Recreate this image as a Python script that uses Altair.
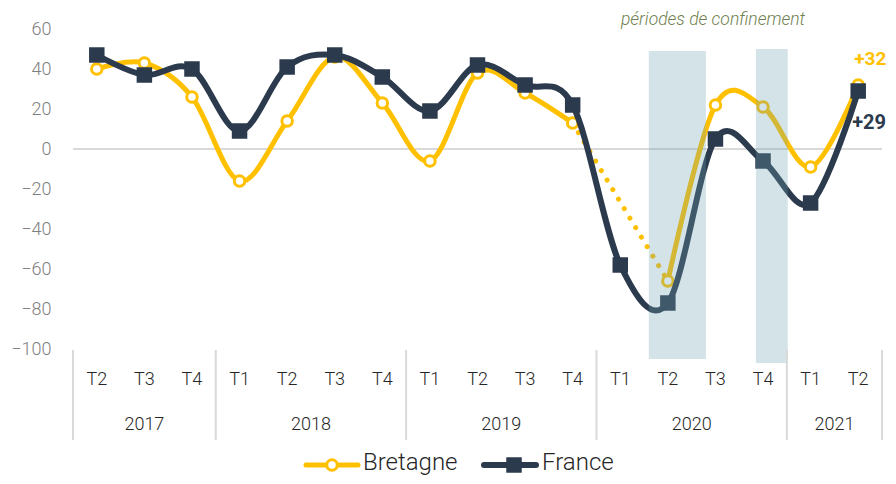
import altair as alt
import pandas as pd

# ---------------- data ----------------
quarters = ["T2", "T3", "T4", "T1", "T2", "T3", "T4", "T1", "T2", "T3", "T4",
            "T1", "T2", "T3", "T4", "T1", "T2"]
years = ["2017"] * 3 + ["2018"] * 4 + ["2019"] * 4 + ["2020"] * 4 + ["2021"] * 2
bretagne = [40, 43, 26, -16, 14, 46, 23, -6, 38, 28, 13, None, -66, 22, 21, -9, 32]
france = [47, 37, 40, 9, 41, 47, 36, 19, 42, 32, 22, -58, -77, 5, -6, -27, 29]
series = ["Bretagne", "France"]

# lockdown periods (in quarter-index units) and their vertical extent
lock_start = [11.6, 13.85]
lock_end = [12.8, 14.52]
lock_top = [49, 50]
lock_bottom = [-105, -107]

y_ticks = [-100, -80, -60, -40, -20, 0, 20, 40, 60]

YELLOW = "#FFC000"
NAVY = "#2C3A4E"
FONT = "Roboto"

idx = list(range(len(quarters)))
df = pd.DataFrame({"i": idx, "q": quarters, "year": years,
                   "bretagne": bretagne, "france": france})

# missing Bretagne T1 2020: dotted bridge between neighbours
gap = [i for i, v in enumerate(bretagne) if v is None][0]
bridge = pd.DataFrame({"i": [gap - 1, gap + 1],
                       "v": [bretagne[gap - 1], bretagne[gap + 1]]})

yrs = []
for y in dict.fromkeys(years):
    ii = [i for i, yy in enumerate(years) if yy == y]
    yrs.append({"year": y, "mid": (ii[0] + ii[-1]) / 2,
                "lo": ii[0] - 0.5, "hi": ii[-1] + 0.5})
yr_df = pd.DataFrame(yrs)
sep_df = pd.DataFrame({"s": sorted(set(yr_df["lo"]).union(yr_df["hi"]))})

lock_df = pd.DataFrame({"x1": lock_start, "x2": lock_end,
                        "y1": lock_top, "y2": lock_bottom})

last = len(quarters) - 1
end_df = pd.DataFrame({"i": [last], "b": [bretagne[last]], "f": [france[last]],
                       "bl": [f"+{bretagne[last]}"], "fl": [f"+{france[last]}"]})

xs = alt.Scale(domain=[-0.5, len(quarters) - 0.5], nice=False, zero=False)
ys = alt.Scale(domain=[-100, 60], nice=False, zero=False)
yaxis = alt.Axis(values=y_ticks, domain=False, ticks=False, grid=False,
                 labelFontSize=18, labelColor="#7f7f7f", labelFont=FONT,
                 labelFontWeight=300, labelPadding=22, title=None)

base = alt.Chart(df)

zero = alt.Chart(pd.DataFrame({"a": [-0.5], "b": [len(quarters) - 0.5], "z": [0]})).mark_rule(
    color="#d9d9d9", strokeWidth=2).encode(
    x=alt.X("a:Q", scale=xs, axis=None), x2="b:Q",
    y=alt.Y("z:Q", scale=ys, axis=yaxis))

dotted = alt.Chart(bridge).mark_line(
    color=YELLOW, strokeWidth=5, strokeDash=[0.1, 11], strokeCap="round").encode(
    x=alt.X("i:Q", scale=xs, axis=None), y=alt.Y("v:Q", scale=ys, axis=yaxis))

b_line = base.mark_line(color=YELLOW, strokeWidth=5, interpolate="cardinal",
                        tension=0).encode(
    x=alt.X("i:Q", scale=xs, axis=None), y=alt.Y("bretagne:Q", scale=ys, axis=yaxis))

b_pts = base.transform_filter("isValid(datum.bretagne)").mark_point(
    shape="circle", filled=True, fill="white", stroke=YELLOW, strokeWidth=3,
    size=110, opacity=1).encode(
    x=alt.X("i:Q", scale=xs, axis=None), y=alt.Y("bretagne:Q", scale=ys, axis=yaxis))

f_line = base.mark_line(color=NAVY, strokeWidth=6, interpolate="cardinal",
                        tension=0).encode(
    x=alt.X("i:Q", scale=xs, axis=None), y=alt.Y("france:Q", scale=ys, axis=yaxis))

f_pts = base.mark_point(shape="square", filled=True, color=NAVY, size=240,
                        opacity=1).encode(
    x=alt.X("i:Q", scale=xs, axis=None), y=alt.Y("france:Q", scale=ys, axis=yaxis))

rects = alt.Chart(lock_df).mark_rect(color="#6EA3AE", opacity=0.3).encode(
    x=alt.X("x1:Q", scale=xs, axis=None), x2="x2:Q",
    y=alt.Y("y1:Q", scale=ys, axis=yaxis), y2="y2:Q")

lock_title = alt.Chart(pd.DataFrame({"t": ["périodes de confinement"]})).mark_text(
    font=FONT, fontSize=17.5, fontStyle="italic", fontWeight=300, color="#6F7F4F",
    align="center", baseline="middle").encode(
    x=alt.value(640), y=alt.value(-9), text="t:N")

b_lab = alt.Chart(end_df).mark_text(
    font=FONT, fontSize=19, fontWeight="bold", color=YELLOW, align="left",
    baseline="middle", dx=-4, dy=-26).encode(
    x=alt.X("i:Q", scale=xs, axis=None), y=alt.Y("b:Q", scale=ys, axis=yaxis), text="bl:N")

f_lab = alt.Chart(end_df).mark_text(
    font=FONT, fontSize=20, fontWeight="bold", color=NAVY, align="left",
    baseline="middle", dx=-6, dy=32).encode(
    x=alt.X("i:Q", scale=xs, axis=None), y=alt.Y("f:Q", scale=ys, axis=yaxis), text="fl:N")

q_lab = base.mark_text(font=FONT, fontSize=18, fontWeight=300, color="#262626",
                       align="center", baseline="middle").encode(
    x=alt.X("i:Q", scale=xs, axis=None), y=alt.value(351), text="q:N")

y_lab = alt.Chart(yr_df).mark_text(font=FONT, fontSize=18, fontWeight=300,
                                   color="#262626", align="center",
                                   baseline="middle").encode(
    x=alt.X("mid:Q", scale=xs, axis=None), y=alt.value(396), text="year:N")

seps = alt.Chart(sep_df).mark_rule(color="#d9d9d9", strokeWidth=2).encode(
    x=alt.X("s:Q", scale=xs, axis=None), y=alt.value(321), y2=alt.value(411))

# manual legend (kept fully inside the page)
LY = 436
TB = 441
leg_b_line = alt.Chart(pd.DataFrame({"k": [series[0]]})).mark_rule(
    color=YELLOW, strokeWidth=5, strokeCap="round").encode(
    x=alt.value(233), x2=alt.value(285), y=alt.value(LY))
leg_b_pt = alt.Chart(pd.DataFrame({"k": [series[0]]})).mark_point(
    shape="circle", filled=True, fill="white", stroke=YELLOW, strokeWidth=3,
    size=110, opacity=1).encode(x=alt.value(259), y=alt.value(LY))
leg_b_txt = alt.Chart(pd.DataFrame({"k": [series[0]]})).mark_text(
    font=FONT, fontSize=24, fontWeight=300, color="#262626", align="left",
    baseline="alphabetic").encode(x=alt.value(290), y=alt.value(TB), text="k:N")
leg_f_line = alt.Chart(pd.DataFrame({"k": [series[1]]})).mark_rule(
    color=NAVY, strokeWidth=6, strokeCap="round").encode(
    x=alt.value(411), x2=alt.value(463), y=alt.value(LY))
leg_f_pt = alt.Chart(pd.DataFrame({"k": [series[1]]})).mark_point(
    shape="square", filled=True, color=NAVY, size=240, opacity=1).encode(
    x=alt.value(441), y=alt.value(LY))
leg_f_txt = alt.Chart(pd.DataFrame({"k": [series[1]]})).mark_text(
    font=FONT, fontSize=24, fontWeight=300, color="#262626", align="left",
    baseline="alphabetic").encode(x=alt.value(469), y=alt.value(TB), text="k:N")

chart = alt.layer(
    zero, dotted, b_line, b_pts, f_line, f_pts, rects,
    lock_title, b_lab, f_lab, q_lab, y_lab, seps,
    leg_b_line, leg_b_pt, leg_b_txt, leg_f_line, leg_f_pt, leg_f_txt,
).properties(
    width=809, height=320,
    padding={"left": 65, "top": 21, "right": 6, "bottom": 127},
    autosize=alt.AutoSizeParams(type="none"),
).configure_view(stroke=None)

chart.save("out.html", embed_options={"renderer": "svg", "actions": False})
